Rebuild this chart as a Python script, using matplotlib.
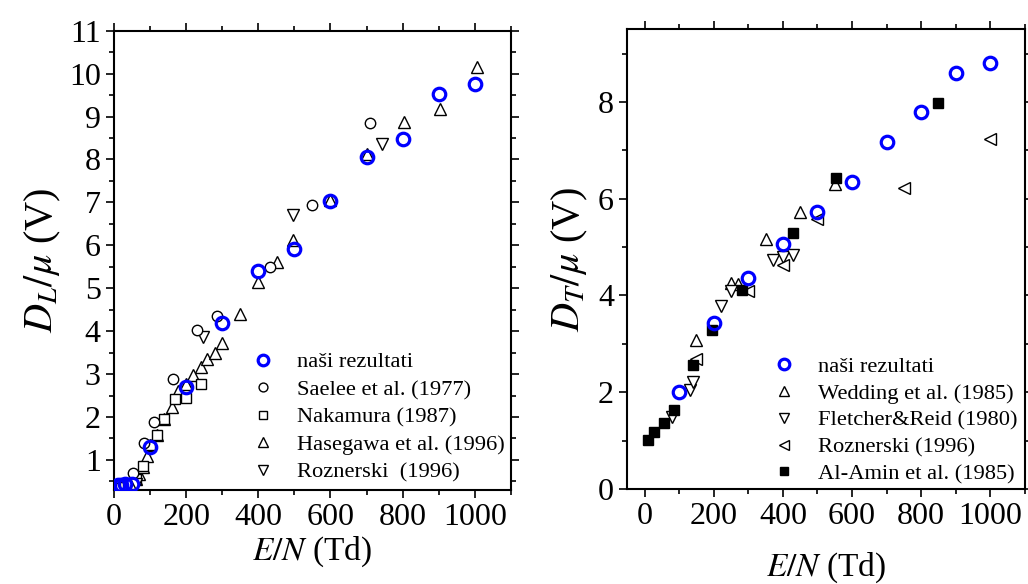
import matplotlib
matplotlib.use("Agg")
import matplotlib.pyplot as plt
from matplotlib.ticker import MultipleLocator

plt.rcParams['font.family'] = ['Liberation Serif', 'DejaVu Serif']
plt.rcParams['mathtext.fontset'] = 'stix'

# ---------------- Left panel data (D_L/mu) ----------------
L_nasi_x = [10, 20, 30, 50, 100, 200, 300, 400, 500, 600, 700, 800, 900, 1000]
L_nasi_y = [0.42, 0.42, 0.43, 0.45, 1.31, 2.70, 4.19, 5.40, 5.91, 7.04, 8.05, 8.47, 9.53, 9.76]

L_saelee_x = [53, 84, 111, 163, 229, 286, 432, 549, 709]
L_saelee_y = [0.69, 1.39, 1.88, 2.88, 4.02, 4.35, 5.50, 6.95, 8.84]

L_nakamura_x = [20, 30, 40, 50, 60, 80, 100, 118, 139, 169, 200, 240]
L_nakamura_y = [0.35, 0.38, 0.40, 0.45, 0.55, 0.85, 1.35, 1.58, 1.95, 2.42, 2.45, 2.77]

L_hasegawa_x = [20, 30, 40, 50, 60, 70, 80, 91, 100, 120, 139, 160, 178, 200, 218,
                240, 258, 280, 300, 349, 400, 452, 497, 600, 700, 803, 903, 1006]
L_hasegawa_y = [0.38, 0.40, 0.42, 0.45, 0.55, 0.67, 0.84, 1.08, 1.35, 1.58, 1.95, 2.24,
                2.60, 2.78, 2.99, 3.17, 3.34, 3.48, 3.73, 4.41, 5.15, 5.60, 6.12, 7.05,
                8.13, 8.87, 9.18, 10.15]

L_rozn_x = [40, 60, 246, 497, 743]
L_rozn_y = [0.42, 0.45, 3.87, 6.70, 8.37]

# ---------------- Right panel data (D_T/mu) ----------------
R_nasi_x = [100, 200, 300, 400, 500, 600, 700, 800, 900, 1000]
R_nasi_y = [2.01, 3.43, 4.36, 5.07, 5.73, 6.35, 7.18, 7.80, 8.59, 8.81]

R_wedding_x = [150, 250, 270, 350, 450, 550]
R_wedding_y = [3.08, 4.25, 4.24, 5.17, 5.72, 6.30]

R_fletcher_x = [80, 130, 140, 220, 250, 370, 400, 430]
R_fletcher_y = [1.49, 2.05, 2.21, 3.79, 4.09, 4.74, 4.80, 4.84]

R_rozn_x = [150, 300, 400, 500, 750, 1000]
R_rozn_y = [2.69, 4.10, 4.62, 5.57, 6.23, 7.23]

R_alamin_x = [10, 28, 56, 85, 141, 196, 283, 428, 554, 850]
R_alamin_y = [1.02, 1.18, 1.37, 1.64, 2.56, 3.28, 4.12, 5.29, 6.43, 7.97]

L_labels = ['naši rezultati', 'Saelee et al. (1977)', 'Nakamura (1987)',
            'Hasegawa et al. (1996)', 'Roznerski  (1996)']
R_labels = ['naši rezultati', 'Wedding et al. (1985)', 'Fletcher&Reid (1980)',
            'Roznerski (1996)', 'Al-Amin et al. (1985)']

BLUE = '#0000ff'

fig = plt.figure(figsize=(10.28, 5.84), dpi=100)
axL = fig.add_axes([0.1109, 0.161, 0.386, 0.7864])
axR = fig.add_axes([0.6102, 0.1627, 0.3868, 0.7871])

open_kw = dict(linestyle='none', mfc='white', mec='black', mew=1.0)

# left panel
axL.plot(L_hasegawa_x, L_hasegawa_y, marker='^', ms=9, label=L_labels[3], **open_kw, zorder=3)
axL.plot(L_nakamura_x, L_nakamura_y, marker='s', ms=7.5, label=L_labels[2], **open_kw, zorder=3)
axL.plot(L_rozn_x, L_rozn_y, marker='v', ms=9, label=L_labels[4], **open_kw, zorder=3)
axL.plot(L_saelee_x, L_saelee_y, marker='o', ms=7.5, label=L_labels[1], **open_kw, zorder=3)
axL.plot(L_nasi_x, L_nasi_y, marker='o', ms=9, linestyle='none', mfc='none', mec=BLUE,
         mew=2.3, label=L_labels[0], zorder=4)

axL.set_xlim(0, 1100)
axL.set_ylim(0.3, 11)
axL.xaxis.set_major_locator(MultipleLocator(200))
axL.xaxis.set_minor_locator(MultipleLocator(100))
axL.yaxis.set_minor_locator(MultipleLocator(0.5))
axL.set_yticks(range(1, 12))
axL.set_xlabel(r'$E/N$ (Td)', fontsize=24, labelpad=2)
axL.set_ylabel(r'$D_L/\mu$ (V)', fontsize=29, labelpad=4)

hL, lL = axL.get_legend_handles_labels()
order = [lL.index(s) for s in L_labels]
axL.legend([hL[i] for i in order], [lL[i] for i in order], loc='lower left',
           bbox_to_anchor=(0.307, -0.018), frameon=False, fontsize=16.2,
           handlelength=1.0, handletextpad=1.0, labelspacing=0.3,
           markerscale=0.85, borderpad=0.2)

# right panel
axR.plot(R_wedding_x, R_wedding_y, marker='^', ms=9, label=R_labels[1], **open_kw, zorder=3)
axR.plot(R_fletcher_x, R_fletcher_y, marker='v', ms=9, label=R_labels[2], **open_kw, zorder=3)
axR.plot(R_rozn_x, R_rozn_y, marker='<', ms=9, label=R_labels[3], **open_kw, zorder=3)
axR.plot(R_alamin_x, R_alamin_y, marker='s', ms=7, linestyle='none', mfc='black',
         mec='black', label=R_labels[4], zorder=3)
axR.plot(R_nasi_x, R_nasi_y, marker='o', ms=9, linestyle='none', mfc='none', mec=BLUE,
         mew=2.3, label=R_labels[0], zorder=4)

axR.set_xlim(-50, 1100)
axR.set_ylim(0, 9.5)
axR.xaxis.set_major_locator(MultipleLocator(200))
axR.xaxis.set_minor_locator(MultipleLocator(100))
axR.yaxis.set_major_locator(MultipleLocator(2))
axR.yaxis.set_minor_locator(MultipleLocator(1))
axR.set_xlabel(r'$E/N$ (Td)', fontsize=24, labelpad=14)
axR.set_ylabel(r'$D_T/\mu$ (V)', fontsize=29, labelpad=6)

hR, lR = axR.get_legend_handles_labels()
order = [lR.index(s) for s in R_labels]
axR.legend([hR[i] for i in order], [lR[i] for i in order], loc='lower left',
           bbox_to_anchor=(0.327, -0.024), frameon=False, fontsize=16.2,
           handlelength=1.0, handletextpad=1.0, labelspacing=0.27,
           markerscale=0.85, borderpad=0.2)

for ax in (axL, axR):
    for s in ax.spines.values():
        s.set_linewidth(1.5)
    ax.tick_params(which='both', direction='out', top=True, right=True,
                   labeltop=False, labelright=False, width=1.2)
    ax.tick_params(which='major', length=6, labelsize=23)
    ax.tick_params(which='minor', length=3.5)

fig.savefig('out.png', dpi=100)
